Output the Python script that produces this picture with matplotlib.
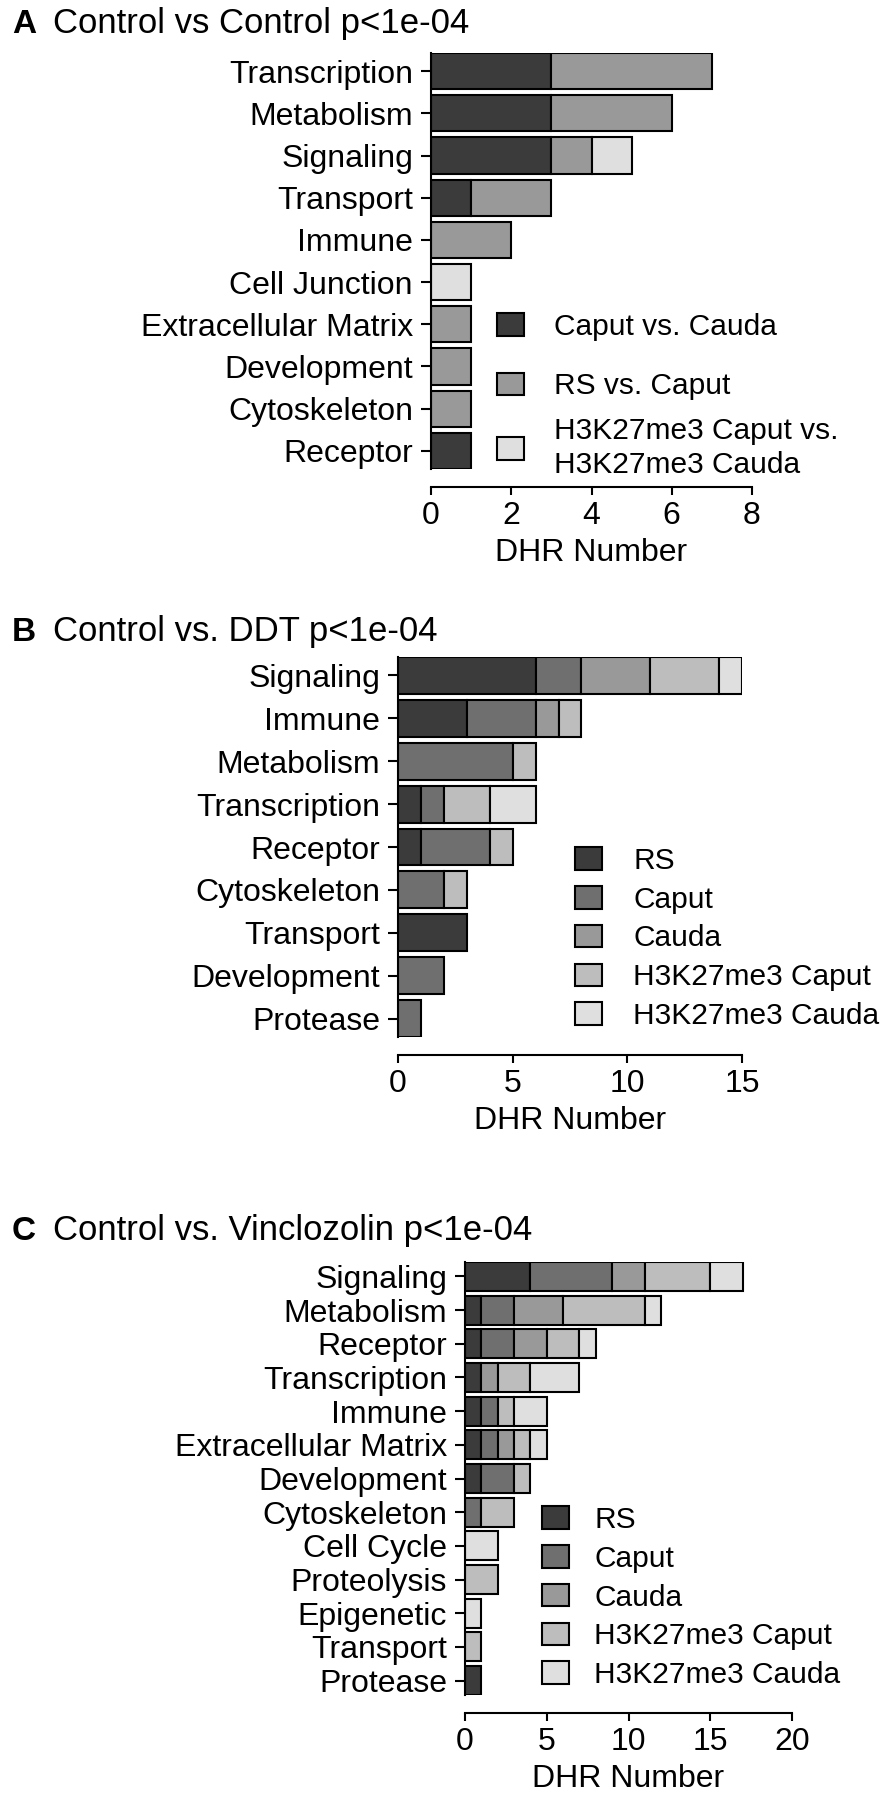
import numpy as np
import matplotlib
matplotlib.use('Agg')
import matplotlib.pyplot as plt

# panel A: Control vs Control
cats_a = ['Transcription', 'Metabolism', 'Signaling', 'Transport', 'Immune',
          'Cell Junction', 'Extracellular Matrix', 'Development', 'Cytoskeleton', 'Receptor']
a_caput_cauda = [3, 3, 3, 1, 0, 0, 0, 0, 0, 1]
a_rs_caput = [4, 3, 1, 2, 2, 0, 1, 1, 1, 0]
a_h3 = [0, 0, 1, 0, 0, 1, 0, 0, 0, 0]
names_a = ['Caput vs. Cauda', 'RS vs. Caput', 'H3K27me3 Caput vs.\nH3K27me3 Cauda']

# panel B: Control vs. DDT
cats_b = ['Signaling', 'Immune', 'Metabolism', 'Transcription', 'Receptor',
          'Cytoskeleton', 'Transport', 'Development', 'Protease']
b_rs = [6, 3, 0, 1, 1, 0, 3, 0, 0]
b_caput = [2, 3, 5, 1, 3, 2, 0, 2, 1]
b_cauda = [3, 1, 0, 0, 0, 0, 0, 0, 0]
b_h3caput = [3, 1, 1, 2, 1, 1, 0, 0, 0]
b_h3cauda = [1, 0, 0, 2, 0, 0, 0, 0, 0]

# panel C: Control vs. Vinclozolin
cats_c = ['Signaling', 'Metabolism', 'Receptor', 'Transcription', 'Immune',
          'Extracellular Matrix', 'Development', 'Cytoskeleton', 'Cell Cycle',
          'Proteolysis', 'Epigenetic', 'Transport', 'Protease']
c_rs = [4, 1, 1, 1, 1, 1, 1, 0, 0, 0, 0, 0, 1]
c_caput = [5, 2, 2, 0, 1, 1, 2, 1, 0, 0, 0, 0, 0]
c_cauda = [2, 3, 2, 1, 0, 1, 0, 0, 0, 0, 0, 0, 0]
c_h3caput = [4, 5, 2, 2, 1, 1, 1, 2, 0, 2, 0, 1, 0]
c_h3cauda = [2, 1, 1, 3, 2, 1, 0, 0, 2, 0, 1, 0, 0]

names_bc = ['RS', 'Caput', 'Cauda', 'H3K27me3 Caput', 'H3K27me3 Cauda']
colors_bc = ['#3b3b3b', '#6f6f6f', '#999999', '#bdbdbd', '#dfdfdf']
colors_a = ['#3b3b3b', '#999999', '#dfdfdf']

plt.rcParams['font.family'] = ['Liberation Sans', 'DejaVu Sans']
plt.rcParams['font.size'] = 23

W, H = 880.0, 1800.0
LEG_FS = 21.5


def px_axes(fig, left, top, right, bottom):
    """Add axes from pixel box (top-left origin)."""
    return fig.add_axes([left / W, 1 - bottom / H, (right - left) / W, (bottom - top) / H])


def draw_panel(ax, cats, series, names, colors, xmax, xstep, bar_h=0.86):
    y = np.arange(len(cats))
    left = np.zeros(len(cats))
    for vals, name, col in zip(series, names, colors):
        vals = np.array(vals, dtype=float)
        keep = vals > 0
        ax.barh(y[keep], vals[keep], left=left[keep], height=bar_h, color=col,
                edgecolor='black', linewidth=1.5, label=name)
        left += vals
    ax.set_ylim(len(cats) - 1 + bar_h / 2, -bar_h / 2)
    ax.set_xlim(0, xmax)
    ax.set_xticks(np.arange(0, xmax + 1, xstep))
    ax.set_yticks(y)
    ax.set_yticklabels(cats)
    ax.spines['top'].set_visible(False)
    ax.spines['right'].set_visible(False)
    ax.spines['bottom'].set_position(('outward', 13))
    ax.spines['left'].set_linewidth(1.5)
    ax.spines['bottom'].set_linewidth(1.5)
    ax.tick_params(axis='y', width=1.5, length=7, pad=6)
    ax.tick_params(axis='x', width=1.5, length=6, pad=4)
    ax.set_xlabel('DHR Number', labelpad=5)


def add_legend(ax, fig, x, ymid, textpad, spacing, handles=None, labels=None):
    if handles is None:
        handles, labels = ax.get_legend_handles_labels()
    leg = ax.legend(handles, labels, loc='center left',
                    bbox_to_anchor=(x / W, 1 - ymid / H),
                    bbox_transform=fig.transFigure, frameon=False, borderpad=0,
                    borderaxespad=0, handlelength=0.9, handleheight=0.78,
                    handletextpad=textpad, labelspacing=spacing, fontsize=LEG_FS)
    return leg


def add_title(fig, letter, text, baseline):
    fig.text(12 / W, 1 - baseline / H, letter, fontweight='bold', va='baseline', fontsize=24)
    fig.text(53 / W, 1 - baseline / H, text, va='baseline', fontsize=25)


fig = plt.figure(figsize=(8.8, 18), dpi=100)

# A
ax_a = px_axes(fig, 431, 53, 752, 469)
draw_panel(ax_a, cats_a, [a_caput_cauda, a_rs_caput, a_h3], names_a, colors_a, 8, 2)
h_a, l_a = ax_a.get_legend_handles_labels()
leg_a1 = add_legend(ax_a, fig, 497, 356.5, 1.0, 1.05, h_a[:2], l_a[:2])
ax_a.add_artist(leg_a1)
leg_a2 = add_legend(ax_a, fig, 497, 448, 1.0, 0.2, h_a[2:], l_a[2:])
leg_a2.get_texts()[0].set_linespacing(1.3)
add_title(fig, 'A', 'Control vs Control p<1e-04', 33)

# B
ax_b = px_axes(fig, 398, 657, 742, 1037)
draw_panel(ax_b, cats_b, [b_rs, b_caput, b_cauda, b_h3caput, b_h3cauda],
           names_bc, colors_bc, 15, 5)
add_legend(ax_b, fig, 575, 938.5, 1.05, 0.36)
add_title(fig, 'B', 'Control vs. DDT p<1e-04', 641)

# C
ax_c = px_axes(fig, 465, 1262, 792, 1695)
draw_panel(ax_c, cats_c, [c_rs, c_caput, c_cauda, c_h3caput, c_h3cauda],
           names_bc, colors_bc, 20, 5)
add_legend(ax_c, fig, 542, 1597.5, 0.85, 0.36)
add_title(fig, 'C', 'Control vs. Vinclozolin p<1e-04', 1240)

fig.savefig('out.png', dpi=100)
